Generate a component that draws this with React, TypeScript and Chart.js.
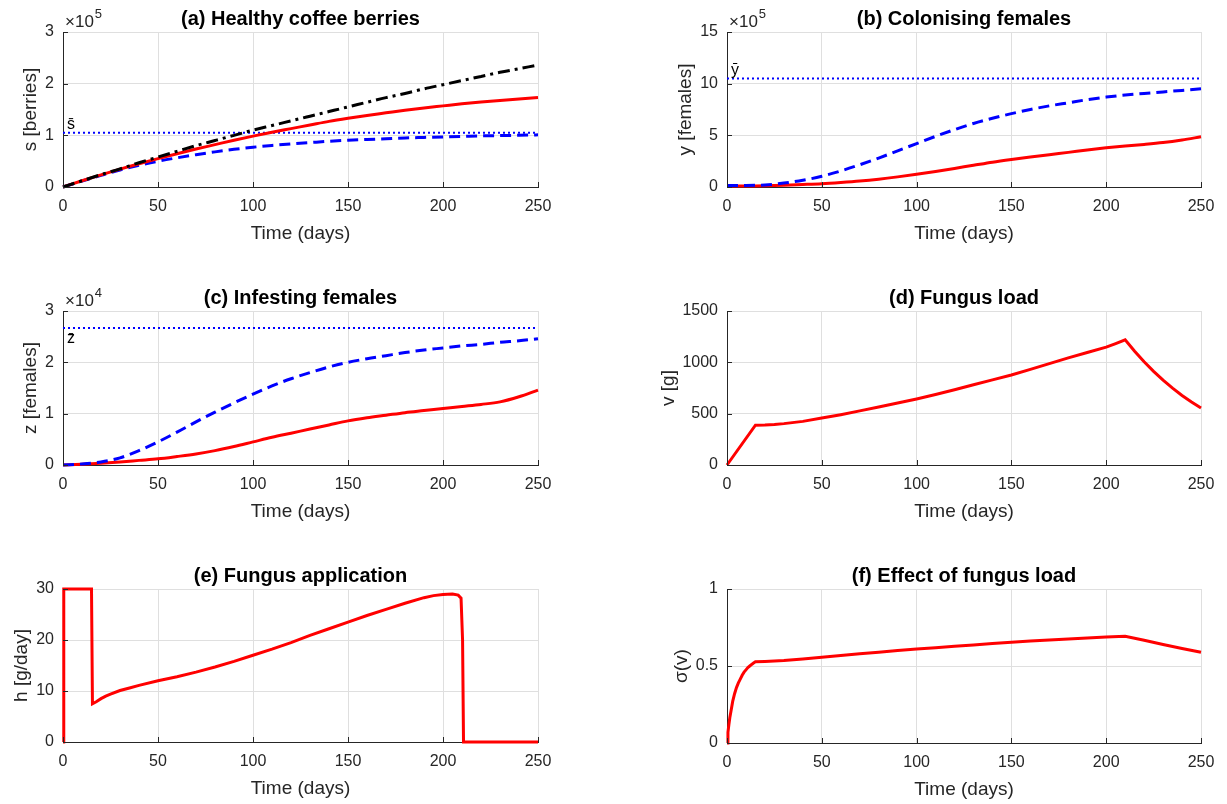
import React, { useEffect, useRef } from "react";
import { Chart, registerables } from "chart.js";

Chart.register(...registerables);

const FONT = "'Liberation Sans', Arial, Helvetica, sans-serif";

// ---------- DATA ----------
const timeDays = [0, 10, 20, 30, 40, 50, 60, 70, 80, 90, 100, 110, 120, 130, 140, 150, 160, 170, 180, 190, 200, 210, 220, 230, 240, 250];
const xTicks = [0, 50, 100, 150, 200, 250];

// (a) healthy berries, in units of 1e5
const berriesNoPest = [0, 0.12, 0.24, 0.35, 0.47, 0.58, 0.69, 0.8, 0.9, 1.0, 1.1, 1.19, 1.28, 1.37, 1.46, 1.55, 1.64, 1.73, 1.81, 1.9, 1.98, 2.06, 2.14, 2.22, 2.29, 2.36];
const berriesControl = [0, 0.12, 0.235, 0.345, 0.45, 0.55, 0.645, 0.735, 0.82, 0.905, 0.985, 1.06, 1.13, 1.2, 1.27, 1.33, 1.385, 1.435, 1.485, 1.53, 1.57, 1.61, 1.645, 1.675, 1.705, 1.73];
const berriesNoControl = [0, 0.115, 0.225, 0.33, 0.42, 0.5, 0.565, 0.625, 0.68, 0.73, 0.77, 0.805, 0.835, 0.86, 0.885, 0.905, 0.92, 0.935, 0.95, 0.96, 0.97, 0.98, 0.99, 0.995, 1.0, 1.01];
const berriesEquilibrium = 1.05;

// (b) colonising females, in units of 1e5
const colonisingNoControl = [0.15, 0.15, 0.2, 0.38, 0.65, 1.04, 1.55, 2.15, 2.8, 3.5, 4.2, 4.9, 5.55, 6.15, 6.65, 7.1, 7.5, 7.85, 8.15, 8.45, 8.7, 8.9, 9.05, 9.2, 9.35, 9.5];
const colonisingControl = [0.1, 0.1, 0.12, 0.17, 0.24, 0.32, 0.44, 0.58, 0.76, 0.98, 1.23, 1.5, 1.8, 2.1, 2.4, 2.66, 2.9, 3.13, 3.35, 3.58, 3.79, 3.97, 4.12, 4.3, 4.55, 4.86];
const colonisingEquilibrium = 10.5;

// (c) infesting females, in units of 1e4
const infestingNoControl = [0, 0.02, 0.06, 0.14, 0.28, 0.45, 0.64, 0.84, 1.03, 1.21, 1.38, 1.54, 1.68, 1.8, 1.91, 2.0, 2.07, 2.13, 2.19, 2.24, 2.28, 2.32, 2.35, 2.39, 2.42, 2.46];
const infestingControl = [0, 0.015, 0.035, 0.06, 0.09, 0.12, 0.165, 0.215, 0.28, 0.36, 0.45, 0.54, 0.62, 0.7, 0.78, 0.86, 0.92, 0.97, 1.02, 1.06, 1.1, 1.14, 1.18, 1.23, 1.33, 1.46];
const infestingEquilibrium = 2.67;

// (d) fungus load [g]
const loadDays = [0, 15, 20, 25, 30, 40, 50, 60, 70, 80, 90, 100, 110, 120, 130, 140, 150, 160, 170, 180, 190, 200, 205, 210, 215, 220, 225, 230, 235, 240, 245, 250];
const fungusLoad = [0, 388, 390, 395, 403, 425, 457, 490, 527, 565, 603, 643, 686, 733, 781, 829, 877, 932, 988, 1043, 1096, 1148, 1183, 1220, 1108, 1005, 912, 826, 748, 677, 613, 555];

// (e) fungus application [g/day]
const applicationDays = [0, 0.4, 15, 15.5, 17.5, 20, 22.5, 25, 30, 35, 40, 50, 60, 70, 80, 90, 100, 110, 120, 130, 140, 150, 160, 170, 180, 190, 195, 200, 205, 208, 209.5, 210.3, 210.8, 250];
const fungusApplication = [0, 30, 30, 7.5, 7.9, 8.5, 9.0, 9.4, 10.1, 10.6, 11.1, 12.0, 12.8, 13.7, 14.7, 15.8, 17.0, 18.2, 19.5, 20.9, 22.2, 23.5, 24.8, 26.0, 27.2, 28.3, 28.7, 28.9, 29.0, 28.8, 28.2, 20, 0, 0];

// (f) effect of fungus load sigma(v)
const effectDays = [0, 0.5, 1, 1.5, 2, 3, 4, 5, 6, 7, 8, 9, 10, 11, 12, 13, 14, 15, 20, 30, 40, 50, 60, 70, 80, 90, 100, 110, 120, 130, 140, 150, 160, 170, 180, 190, 200, 210, 220, 230, 240, 250];
const fungusEffect = [0, 0.07, 0.12, 0.165, 0.2, 0.27, 0.32, 0.36, 0.39, 0.415, 0.44, 0.46, 0.475, 0.49, 0.5, 0.51, 0.519, 0.527, 0.53, 0.536, 0.546, 0.557, 0.568, 0.579, 0.589, 0.6, 0.61, 0.619, 0.628, 0.637, 0.646, 0.654, 0.662, 0.669, 0.676, 0.682, 0.688, 0.693, 0.667, 0.64, 0.614, 0.589];

// ---------- STYLES ----------
const RED = { color: "#ff0000", width: 3, dash: [] as number[] };
const BLUE_DASH = { color: "#0000ff", width: 3, dash: [11, 6] };
const BLACK_DASHDOT = { color: "#000000", width: 3, dash: [12, 5, 3, 5] };
const BLUE_DOT = { color: "#0000ff", width: 2, dash: [2, 3] };

type Line = { xs: number[]; ys: number[]; style: { color: string; width: number; dash: number[] } };
type Spec = {
  area: { l: number; t: number; r: number; b: number };
  title: string;
  yLabel: string;
  yMax: number;
  yStep: number;
  smooth: boolean;
  exponent?: string;
  refLabel?: string;
  refValue?: number;
  refBelow?: boolean;
  lines: Line[];
};

const flat = (v: number) => [v, v];

const specs: Spec[] = [
  {
    area: { l: 63, t: 32, r: 538, b: 187 },
    title: "(a) Healthy coffee berries",
    yLabel: "s [berries]",
    yMax: 3, yStep: 1, exponent: "5", smooth: true,
    refLabel: "s\u0304", refValue: berriesEquilibrium,
    lines: [
      { xs: timeDays, ys: berriesNoPest, style: BLACK_DASHDOT },
      { xs: timeDays, ys: berriesControl, style: RED },
      { xs: timeDays, ys: berriesNoControl, style: BLUE_DASH },
      { xs: [0, 250], ys: flat(berriesEquilibrium), style: BLUE_DOT },
    ],
  },
  {
    area: { l: 727, t: 32, r: 1201, b: 187 },
    title: "(b) Colonising females",
    yLabel: "y [females]",
    yMax: 15, yStep: 5, exponent: "5", smooth: true,
    refLabel: "y\u0304", refValue: colonisingEquilibrium,
    lines: [
      { xs: timeDays, ys: colonisingNoControl, style: BLUE_DASH },
      { xs: timeDays, ys: colonisingControl, style: RED },
      { xs: [0, 250], ys: flat(colonisingEquilibrium), style: BLUE_DOT },
    ],
  },
  {
    area: { l: 63, t: 311, r: 538, b: 465 },
    title: "(c) Infesting females",
    yLabel: "z [females]",
    yMax: 3, yStep: 1, exponent: "4", smooth: true,
    refLabel: "z\u0304", refValue: infestingEquilibrium, refBelow: true,
    lines: [
      { xs: timeDays, ys: infestingNoControl, style: BLUE_DASH },
      { xs: timeDays, ys: infestingControl, style: RED },
      { xs: [0, 250], ys: flat(infestingEquilibrium), style: BLUE_DOT },
    ],
  },
  {
    area: { l: 727, t: 311, r: 1201, b: 465 },
    title: "(d) Fungus load",
    yLabel: "v [g]",
    yMax: 1500, yStep: 500, smooth: false,
    lines: [{ xs: loadDays, ys: fungusLoad, style: RED }],
  },
  {
    area: { l: 63, t: 589, r: 538, b: 742 },
    title: "(e) Fungus application",
    yLabel: "h [g/day]",
    yMax: 30, yStep: 10, smooth: false,
    lines: [{ xs: applicationDays, ys: fungusApplication, style: RED }],
  },
  {
    area: { l: 727, t: 589, r: 1201, b: 743 },
    title: "(f) Effect of fungus load",
    yLabel: "\u03c3(v)",
    yMax: 1, yStep: 0.5, smooth: false,
    lines: [{ xs: effectDays, ys: fungusEffect, style: RED }],
  },
];

const Y_W = 45;
const X_H = 40;
const AXIS = "#262626";
const GRID = "#dfdfdf";

const decorPlugin = {
  id: "decor",
  afterDraw(chart: any) {
    const o = chart.options.plugins.decor as Spec;
    const { ctx, chartArea: ca, scales } = chart;
    const xs = scales.x;
    const ys = scales.y;
    ctx.save();
    // inward ticks
    ctx.strokeStyle = AXIS;
    ctx.lineWidth = 1;
    ctx.beginPath();
    ys.ticks.forEach((t: any) => {
      const py = Math.round(ys.getPixelForValue(t.value)) + 0.5;
      ctx.moveTo(ca.left, py);
      ctx.lineTo(ca.left + 5, py);
    });
    xs.ticks.forEach((t: any) => {
      const px = Math.round(xs.getPixelForValue(t.value)) + 0.5;
      ctx.moveTo(px, ca.bottom);
      ctx.lineTo(px, ca.bottom - 5);
    });
    ctx.stroke();

    // title
    const cxm = (ca.left + ca.right) / 2;
    ctx.fillStyle = "#000";
    ctx.font = `bold 20px ${FONT}`;
    ctx.textAlign = "center";
    ctx.textBaseline = "alphabetic";
    ctx.fillText(o.title, cxm, ca.top - 7);

    // x title
    ctx.fillStyle = AXIS;
    ctx.font = `19px ${FONT}`;
    ctx.fillText("Time (days)", cxm, ca.bottom + 52);

    // y title
    ctx.font = `16px ${FONT}`;
    let maxW = 0;
    ys.ticks.forEach((t: any) => {
      maxW = Math.max(maxW, ctx.measureText(String(t.value)).width);
    });
    const yx = ca.left - 9 - maxW - 14;
    ctx.save();
    ctx.translate(yx, (ca.top + ca.bottom) / 2);
    ctx.rotate(-Math.PI / 2);
    ctx.font = `19px ${FONT}`;
    ctx.textBaseline = "middle";
    ctx.textAlign = "center";
    ctx.fillText(o.yLabel, 0, 0);
    ctx.restore();

    // exponent
    if (o.exponent) {
      ctx.textAlign = "left";
      ctx.textBaseline = "alphabetic";
      ctx.font = `17px ${FONT}`;
      const base = "\u00d710";
      ctx.fillText(base, ca.left + 2, ca.top - 5);
      const w = ctx.measureText(base).width;
      ctx.font = `13px ${FONT}`;
      ctx.fillText(o.exponent, ca.left + 2 + w + 1, ca.top - 14);
    }

    // reference label
    if (o.refLabel && o.refValue !== undefined) {
      const py = ys.getPixelForValue(o.refValue);
      ctx.fillStyle = "#000";
      ctx.font = `16px ${FONT}`;
      ctx.textAlign = "left";
      if (o.refBelow) {
        ctx.textBaseline = "top";
        ctx.fillText(o.refLabel, ca.left + 4, py + 3);
      } else {
        ctx.textBaseline = "alphabetic";
        ctx.fillText(o.refLabel, ca.left + 4, py - 4);
      }
    }
    ctx.restore();
  },
};

function Panel({ spec }: { spec: Spec }) {
  const ref = useRef<HTMLCanvasElement>(null);
  const cx = spec.area.l < 613 ? 0 : 613;
  const cy = spec.area.t - 32;
  const cw = spec.area.l < 613 ? 613 : 614;
  const ch = 268;
  useEffect(() => {
    const a = spec.area;
    const datasets = spec.lines.map((ln) => ({
      data: ln.xs.map((x, i) => ({ x, y: ln.ys[i] })),
      borderColor: ln.style.color,
      borderWidth: ln.style.width,
      borderDash: ln.style.dash,
      pointRadius: 0,
      fill: false,
      tension: 0,
      cubicInterpolationMode: spec.smooth ? ("monotone" as const) : ("default" as const),
      clip: false as any,
    }));
    const chart = new Chart(ref.current as HTMLCanvasElement, {
      type: "line",
      data: { datasets },
      plugins: [decorPlugin],
      options: {
        responsive: false,
        animation: false,
        events: [],
        layout: {
          padding: {
            left: a.l - cx - Y_W,
            top: a.t - cy,
            right: cx + cw - a.r,
            bottom: cy + ch - a.b - X_H,
          },
        },
        plugins: {
          legend: { display: false },
          title: { display: false },
          tooltip: { enabled: false },
          decor: spec as any,
        } as any,
        scales: {
          x: {
            type: "linear",
            min: 0,
            max: 250,
            afterBuildTicks: (s: any) => {
              s.ticks = xTicks.map((v) => ({ value: v }));
            },
            afterFit: (s: any) => {
              s.height = X_H;
            },
            ticks: {
              font: { family: FONT, size: 16 },
              color: AXIS,
              padding: 10,
              maxRotation: 0,
              autoSkip: false,
              callback: (v: any) => String(v),
            },
            grid: { color: GRID, lineWidth: 1, drawTicks: false },
            border: { display: true, color: AXIS, width: 1 },
          },
          y: {
            type: "linear",
            min: 0,
            max: spec.yMax,
            afterFit: (s: any) => {
              s.width = Y_W;
            },
            ticks: {
              stepSize: spec.yStep,
              font: { family: FONT, size: 16 },
              color: AXIS,
              padding: 9,
              callback: (v: any) => String(v),
            },
            grid: { color: GRID, lineWidth: 1, drawTicks: false },
            border: { display: true, color: AXIS, width: 1 },
          },
        },
      },
    });
    return () => chart.destroy();
  }, []);
  return (
    <canvas
      ref={ref}
      width={cw}
      height={ch}
      style={{ position: "absolute", left: cx, top: cy, width: cw, height: ch }}
    />
  );
}

export default function App() {
  return (
    <div
      style={{
        position: "fixed",
        left: 0,
        top: 0,
        width: 1227,
        height: 804,
        background: "#fff",
        overflow: "hidden",
      }}
    >
      {specs.map((s, i) => (
        <Panel key={i} spec={s} />
      ))}
    </div>
  );
}
